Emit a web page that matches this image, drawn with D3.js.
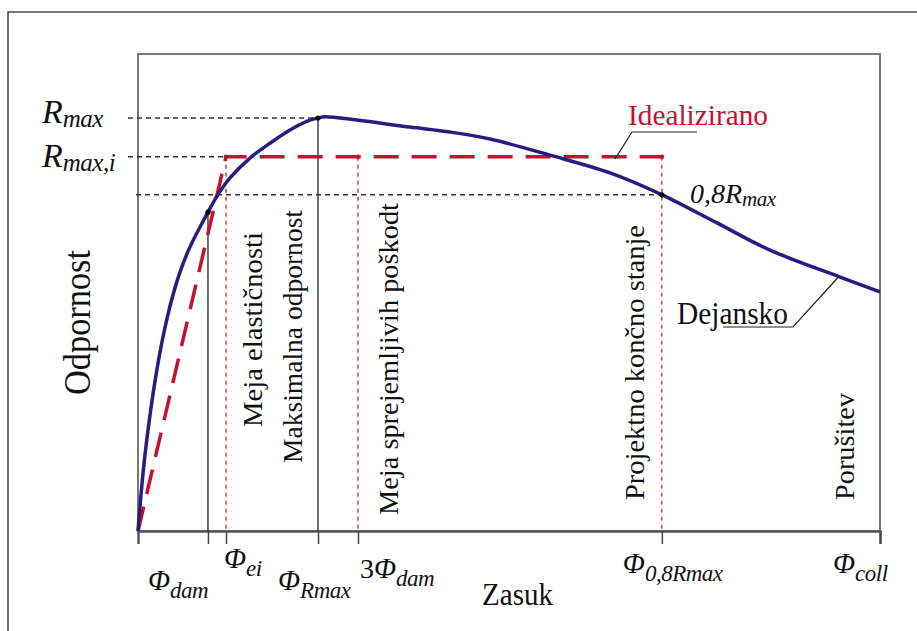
<!DOCTYPE html>
<html><head><meta charset="utf-8">
<script src="https://cdn.jsdelivr.net/npm/d3@7"></script>
<style>body{margin:0;background:#fff}svg{display:block}text{font-family:"Liberation Serif","DejaVu Serif","Noto Serif","FreeSerif","Nimbus Roman","Times New Roman",Times,serif}</style>
</head><body>
<svg id="c" width="917" height="631"></svg>
<script>
// ---- data ----
const curveX = [0,0.40,0.94,1.62,2.43,3.37,4.45,5.66,7.01,8.36,9.43,10.65,12.40,15.09,17.79,20.49,22.91,24.26,25.20,29.51,36.66,42.05,47.44,55.53,63.61,70.62,78.03,85.18,94.61,100];
const curveY = [0,0.087,0.184,0.281,0.378,0.470,0.554,0.627,0.688,0.736,0.772,0.811,0.855,0.903,0.939,0.971,0.993,1.0,1.003,0.995,0.978,0.966,0.949,0.910,0.867,0.814,0.746,0.680,0.615,0.579];
const idealX = [0, 11.86, 70.6];
const idealY = [0, 0.906, 0.906];
const phiDam = 9.43, phiEi = 11.86, phiRmax = 24.26, phi3Dam = 29.65, phi08 = 70.6, phiColl = 100;
const Rmax = 1.0, RmaxI = 0.906, R08 = 0.814, RatDam = 0.772;
const xTickValues = [phiDam, phiEi, phiRmax, phi3Dam, phi08, phiColl];
const xTickPrefix = ["", "", "", "3", "", ""];
const xTickSub = ["dam", "ei", "Rmax", "dam", "0,8Rmax", "coll"];
const verticalLabels = ["Meja elastičnosti", "Maksimalna odpornost", "Meja sprejemljivih poškodt", "Projektno končno stanje", "Porušitev"];
const yAxisTitle = "Odpornost", xAxisTitle = "Zasuk";
const idealLabel = "Idealizirano", actualLabel = "Dejansko";

// ---- layout ----
const L = 138, R = 880, T = 54, B = 531;
const x = d3.scaleLinear().domain([0, 100]).range([L, R]);
const y = d3.scaleLinear().domain([0, 1.155]).range([B, T]);
const svg = d3.select("#c");
const blue = "#2b1a80", red = "#c8102e", redDot = "#c0404a", dark = "#333";

// outer frame
svg.append("path").attr("d", "M8,631 V12 H917").attr("fill", "none").attr("stroke", "#444").attr("stroke-width", 1.5);
// plot frame
svg.append("rect").attr("x", L).attr("y", T).attr("width", R - L).attr("height", B - T)
  .attr("fill", "none").attr("stroke", "#777").attr("stroke-width", 2);

// x axis with ticks
const xAxis = d3.axisBottom(x).tickValues(xTickValues).tickSize(13).tickFormat("");
const ax = svg.append("g").attr("transform", `translate(0,${B})`).call(xAxis);
ax.select(".domain").attr("stroke", "#555").attr("stroke-width", 2.5);
ax.selectAll(".tick line").attr("stroke", "#444").attr("stroke-width", 1.5);

// horizontal dashed reference lines
const hLines = [[Rmax, -10, phiRmax], [RmaxI, -10, phiEi], [R08, -2, phi08]];
hLines.forEach(([v, off, x2]) => {
  svg.append("line").attr("x1", x(0) + off).attr("x2", x(x2)).attr("y1", y(v)).attr("y2", y(v))
    .attr("stroke", dark).attr("stroke-width", 1.5).attr("stroke-dasharray", "5,4");
});

// vertical lines
const vSolid = [[phiDam, RatDam], [phiRmax, Rmax]];
vSolid.forEach(([px, v]) => svg.append("line").attr("x1", x(px)).attr("x2", x(px)).attr("y1", y(v)).attr("y2", B)
  .attr("stroke", "#222").attr("stroke-width", 1.3));
const vDotted = [phiEi, phi3Dam, phi08];
vDotted.forEach(px => svg.append("line").attr("x1", x(px)).attr("x2", x(px)).attr("y1", y(RmaxI)).attr("y2", B)
  .attr("stroke", redDot).attr("stroke-width", 1.5).attr("stroke-dasharray", "4,4"));

// idealized
const idealData = idealX.map((d, i) => [d, idealY[i]]);
svg.append("path").datum(idealData).attr("fill", "none").attr("stroke", red).attr("stroke-width", 3.5)
  .attr("stroke-dasharray", "25,13").attr("d", d3.line().x(d => x(d[0])).y(d => y(d[1])));

// actual curve
const curveData = curveX.map((d, i) => [d, curveY[i]]);
svg.append("path").datum(curveData).attr("fill", "none").attr("stroke", blue).attr("stroke-width", 3.5)
  .attr("d", d3.line().x(d => x(d[0])).y(d => y(d[1])).curve(d3.curveCatmullRom.alpha(0.5)));

// dots
[[phiDam, RatDam], [phiRmax, Rmax], [phi08, R08]].forEach(([a, b]) =>
  svg.append("circle").attr("cx", x(a)).attr("cy", y(b)).attr("r", 2.6).attr("fill", "#000"));
[[phiEi, RmaxI], [phi3Dam, RmaxI], [phi08, RmaxI]].forEach(([a, b]) =>
  svg.append("circle").attr("cx", x(a)).attr("cy", y(b)).attr("r", 2.4).attr("fill", red));

// x tick labels
const tickDx = [-60, -2, -40, 2, -39, -47];
const tickY = [590, 568, 590, 578, 573, 573];
xTickValues.forEach((v, i) => {
  const t = svg.append("text").attr("x", x(v) + tickDx[i]).attr("y", tickY[i]).attr("fill", "#111");
  if (xTickPrefix[i]) t.append("tspan").attr("font-size", 28).text(xTickPrefix[i]);
  t.append("tspan").attr("font-size", 29).attr("font-style", "italic").text("Φ");
  t.append("tspan").attr("font-size", 23).attr("font-style", "italic").attr("dy", 8).attr("letter-spacing", -0.5).text(xTickSub[i]);
});

// y marker labels
function rLabel(px, py, main, sub, size, subSize, dy) {
  const t = svg.append("text").attr("x", px).attr("y", py).attr("fill", "#111").attr("font-style", "italic");
  t.append("tspan").attr("font-size", size).text(main);
  t.append("tspan").attr("font-size", subSize).attr("dy", dy).attr("letter-spacing", -0.5).text(sub);
}
rLabel(42, y(Rmax) + 5, "R", "max", 34, 25, 4);
rLabel(42, y(RmaxI) + 10, "R", "max,i", 34, 25, 4);
rLabel(690, y(R08) + 8, "0,8R", "max", 28, 21, 3);

// vertical labels
const vlPos = [[262, 427, 195], [302, 463, 253], [398, 515, 312], [644, 500, 275], [854, 500, 107]];
verticalLabels.forEach((s, i) => {
  const [bx, by, len] = vlPos[i];
  svg.append("text").attr("transform", `translate(${bx},${by}) rotate(-90)`).attr("font-size", 28)
    .attr("textLength", len).attr("lengthAdjust", "spacingAndGlyphs").attr("fill", "#111").text(s);
});

// axis titles
svg.append("text").attr("transform", `translate(90,395) rotate(-90)`).attr("font-size", 37)
  .attr("textLength", 145).attr("lengthAdjust", "spacingAndGlyphs").attr("fill", "#111").text(yAxisTitle);
svg.append("text").attr("x", 482).attr("y", 605).attr("font-size", 31)
  .attr("textLength", 71).attr("lengthAdjust", "spacingAndGlyphs").attr("fill", "#111").text(xAxisTitle);

// annotations
svg.append("text").attr("x", 628).attr("y", 125).attr("font-size", 30).attr("fill", red)
  .attr("textLength", 140).attr("lengthAdjust", "spacingAndGlyphs").text(idealLabel);
const ia = [64.3, RmaxI];
svg.append("path").attr("d", `M697,132 H632 L${x(ia[0])},${y(ia[1]) + 2}`).attr("fill", "none").attr("stroke", "#222").attr("stroke-width", 1.2);

svg.append("text").attr("x", 677).attr("y", 324).attr("font-size", 31).attr("fill", "#111")
  .attr("textLength", 111).attr("lengthAdjust", "spacingAndGlyphs").text(actualLabel);
const da = [94.4, 0.615];
svg.append("path").attr("d", `M723,327 H793 L${x(da[0])},${y(da[1])}`).attr("fill", "none").attr("stroke", "#222").attr("stroke-width", 1.2);
</script>
</body></html>
